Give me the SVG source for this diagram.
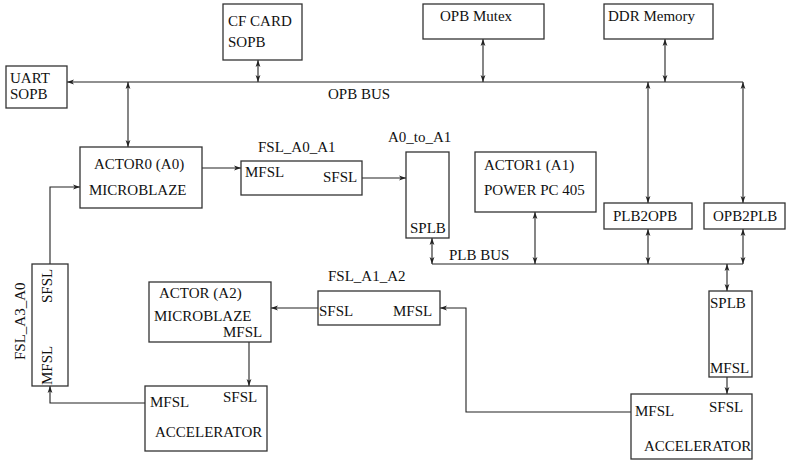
<svg xmlns="http://www.w3.org/2000/svg" width="786" height="462" viewBox="0 0 786 462">
<defs>
<style>
.box{fill:#fff;stroke:#333;stroke-width:1.3}
.t{font-family:"Liberation Serif","Times New Roman",serif;font-size:15px;fill:#111}
.c{fill:none;stroke:#222;stroke-width:1.1}
.a{marker-end:url(#ah)}
.d{marker-start:url(#ah);marker-end:url(#ah)}
</style>
<marker id="ah" markerUnits="userSpaceOnUse" markerWidth="8" markerHeight="6" refX="7" refY="3" orient="auto-start-reverse">
<path d="M0,0.6 L7,3 L0,5.4 L1.8,3 z" fill="#222"/>
</marker>
</defs>
<rect width="786" height="462" fill="#fff"/>
<g id="connectors">
<path class="c a" d="M743,82 H67"/>
<path class="c d" d="M128,82 V147"/>
<path class="c d" d="M258,60 V82"/>
<path class="c d" d="M483,39 V82"/>
<path class="c d" d="M665,39 V82"/>
<path class="c d" d="M648,82 V203"/>
<path class="c d" d="M743,82 V203"/>
<path class="c a" d="M202,168 H241"/>
<path class="c a" d="M362,178 H406"/>
<path class="c" d="M432,264 H743"/>
<path class="c d" d="M432,238 V264"/>
<path class="c d" d="M535,212 V264"/>
<path class="c d" d="M648,229 V264"/>
<path class="c d" d="M743,229 V264"/>
<path class="c d" d="M727,264 V291"/>
<path class="c a" d="M727,377 V394"/>
<path class="c a" d="M631,412 H466 V308 H440"/>
<path class="c a" d="M318,308 H271"/>
<path class="c a" d="M249,342 V386"/>
<path class="c a" d="M145,403 H50 V386"/>
<path class="c a" d="M50,264 V187 H80"/>
</g>
<g id="cf_card"><rect class="box" x="223" y="4" width="79" height="56"/><text class="t" x="228" y="26">CF CARD</text><text class="t" x="228" y="47">SOPB</text></g>
<g id="uart"><rect class="box" x="6" y="66" width="61" height="42"/><text class="t" x="10" y="83">UART</text><text class="t" x="10" y="99">SOPB</text></g>
<g id="opb_mutex"><rect class="box" x="423" y="4" width="121" height="35"/><text class="t" x="440" y="21">OPB Mutex</text></g>
<g id="ddr_memory"><rect class="box" x="604" y="4" width="109" height="35"/><text class="t" x="608" y="21">DDR Memory</text></g>
<g id="opb_bus"><text class="t" x="328" y="99">OPB BUS</text></g>
<g id="actor0"><rect class="box" x="80" y="147" width="122" height="61"/><text class="t" x="94" y="169">ACTOR0 (A0)</text><text class="t" x="89" y="195">MICROBLAZE</text></g>
<g id="fsl_a0_a1"><rect class="box" x="241" y="161" width="121" height="34"/><text class="t" x="258" y="152">FSL_A0_A1</text><text class="t" x="245" y="177">MFSL</text><text class="t" x="323" y="182">SFSL</text></g>
<g id="a0_to_a1"><rect class="box" x="406" y="152" width="43" height="86"/><text class="t" x="388" y="142">A0_to_A1</text><text class="t" x="410" y="233">SPLB</text></g>
<g id="actor1"><rect class="box" x="475" y="152" width="121" height="60"/><text class="t" x="484" y="170">ACTOR1 (A1)</text><text class="t" x="484" y="195">POWER PC 405</text></g>
<g id="plb2opb"><rect class="box" x="604" y="203" width="88" height="26"/><text class="t" x="613" y="221">PLB2OPB</text></g>
<g id="opb2plb"><rect class="box" x="704" y="203" width="81" height="26"/><text class="t" x="713" y="221">OPB2PLB</text></g>
<g id="plb_bus"><text class="t" x="449" y="260">PLB BUS</text></g>
<g id="fsl_a3_a0"><rect class="box" x="32" y="264" width="36" height="122"/><text class="t" transform="translate(52,303) rotate(-90)">SFSL</text><text class="t" transform="translate(52,385) rotate(-90)">MFSL</text><text class="t" transform="translate(25,360) rotate(-90)">FSL_A3_A0</text></g>
<g id="actor_a2"><rect class="box" x="149" y="282" width="122" height="60"/><text class="t" x="159" y="298">ACTOR (A2)</text><text class="t" x="154" y="321">MICROBLAZE</text><text class="t" x="223" y="337">MFSL</text></g>
<g id="fsl_a1_a2"><rect class="box" x="318" y="291" width="122" height="34"/><text class="t" x="328" y="281">FSL_A1_A2</text><text class="t" x="319" y="316">SFSL</text><text class="t" x="393" y="316">MFSL</text></g>
<g id="accel_left"><rect class="box" x="145" y="386" width="122" height="65"/><text class="t" x="150" y="407">MFSL</text><text class="t" x="223" y="402">SFSL</text><text class="t" x="155" y="437">ACCELERATOR</text></g>
<g id="plb_fsl_bridge"><rect class="box" x="709" y="291" width="43" height="86"/><text class="t" x="710" y="308">SPLB</text><text class="t" x="710" y="373">MFSL</text></g>
<g id="accel_right"><rect class="box" x="631" y="394" width="121" height="65"/><text class="t" x="635" y="416">MFSL</text><text class="t" x="709" y="412">SFSL</text><text class="t" x="644" y="451">ACCELERATOR</text></g>
</svg>
